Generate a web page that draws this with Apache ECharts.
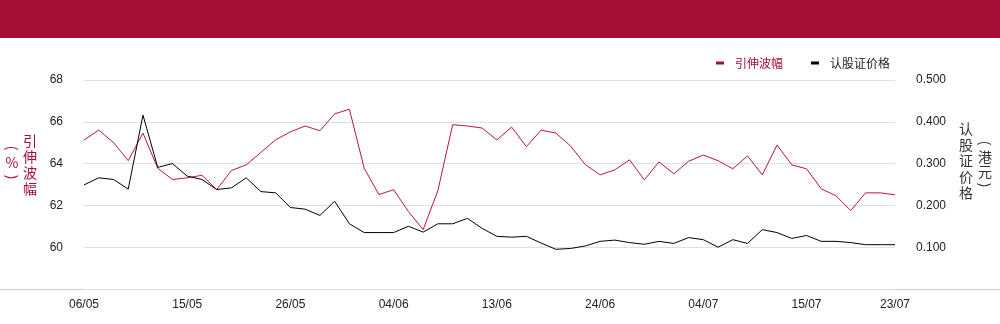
<!DOCTYPE html>
<html>
<head>
<meta charset="utf-8">
<script src="https://cdn.jsdelivr.net/npm/echarts@6/dist/echarts.min.js"></script>
<style>
  html, body { margin: 0; padding: 0; background: #fff; }
  .chart { width: 1000px; height: 324px; }
</style>
</head>
<body>
<div class="chart" id="chart"></div>
<script>
// 交易日
var dates = ['06/05', '07/05', '08/05', '09/05', '12/05', '13/05', '14/05', '15/05', '16/05', '19/05',
  '20/05', '21/05', '22/05', '23/05', '26/05', '27/05', '28/05', '29/05', '30/05', '02/06',
  '03/06', '04/06', '05/06', '06/06', '09/06', '10/06', '11/06', '12/06', '13/06', '16/06',
  '17/06', '18/06', '19/06', '20/06', '23/06', '24/06', '25/06', '26/06', '27/06', '30/06',
  '02/07', '03/07', '04/07', '07/07', '08/07', '09/07', '10/07', '11/07', '14/07', '15/07',
  '16/07', '17/07', '18/07', '21/07', '22/07', '23/07']

// 引伸波幅 (%)
var volData = [65.13, 65.60, 65.01, 64.14, 65.46, 63.78, 63.24, 63.32, 63.44, 62.76,
  63.67, 63.94, 64.54, 65.14, 65.52, 65.80, 65.57, 66.38, 66.60, 63.78,
  62.52, 62.75, 61.71, 60.84, 62.71, 65.86, 65.80, 65.70, 65.13, 65.75,
  64.81, 65.60, 65.46, 64.84, 63.95, 63.46, 63.70, 64.18, 63.22, 64.08,
  63.51, 64.11, 64.41, 64.14, 63.75, 64.37, 63.46, 64.89, 63.94, 63.75,
  62.79, 62.46, 61.75, 62.60, 62.60, 62.51]

// 认股证价格 (港元)
var priceData = [0.249, 0.266, 0.262, 0.239, 0.416, 0.291, 0.300, 0.270, 0.262, 0.238,
  0.242, 0.266, 0.233, 0.230, 0.195, 0.191, 0.176, 0.210, 0.156, 0.135,
  0.135, 0.135, 0.150, 0.136, 0.156, 0.156, 0.169, 0.145, 0.126, 0.124,
  0.126, 0.110, 0.095, 0.097, 0.103, 0.114, 0.117, 0.111, 0.107, 0.114,
  0.109, 0.123, 0.118, 0.100, 0.118, 0.109, 0.142, 0.135, 0.121, 0.128,
  0.114, 0.114, 0.111, 0.106, 0.106, 0.106]

var RED = '#A50F33'
var LINE_RED = '#B8163F'
var FONT = 'Arial, "Liberation Sans", "Noto Sans CJK SC", sans-serif'
var CJK = '"Noto Sans CJK SC", sans-serif'

// 竖排文字, 括号旋转
function vText (x, y, text, color) {
  return {
    type: 'text',
    x: x,
    y: y,
    rotation: text === '(' || text === ')' ? -Math.PI / 2 : 0,
    style: {
      text: text,
      fill: color,
      font: '14px ' + CJK,
      align: 'center',
      verticalAlign: 'middle'
    },
    silent: true
  }
}

var chart = echarts.init(document.getElementById('chart'))
chart.setOption({
  animation: false,
  backgroundColor: '#fff',
  textStyle: { fontFamily: FONT },
  grid: {
    left: 84,
    right: 105,
    top: 80,
    bottom: 35
  },
  legend: {
    right: 105,
    top: 52,
    itemWidth: 8,
    itemHeight: 3,
    itemGap: 28,
    icon: 'rect',
    textStyle: {
      fontFamily: CJK,
      fontSize: 12,
      padding: [0, 0, 0, 6]
    },
    data: [
      { name: '引伸波幅', textStyle: { color: RED } },
      { name: '认股证价格', textStyle: { color: '#222' } }
    ]
  },
  graphic: [
    {
      type: 'rect',
      left: 0,
      top: 0,
      shape: { width: 1000, height: 38 },
      style: { fill: RED },
      silent: true
    },
    {
      type: 'line',
      shape: { x1: 0, y1: 289.5, x2: 1000, y2: 289.5 },
      style: { stroke: '#cfcfcf', lineWidth: 1 },
      silent: true
    },
    {
      type: 'text',
      left: 23,
      top: 133,
      style: {
        text: '引\n伸\n波\n幅',
        fill: RED,
        font: '14px ' + CJK,
        lineHeight: 16
      }
    },
    vText(12, 148, '(', RED),
    vText(12, 163, '%', RED),
    vText(12, 177, ')', RED),
    {
      type: 'text',
      left: 959,
      top: 121,
      style: {
        text: '认\n股\n证\n价\n格',
        fill: '#333',
        font: '14px ' + CJK,
        lineHeight: 16
      }
    },
    vText(985, 143, '(', '#333'),
    vText(985, 157, '港', '#333'),
    vText(985, 172, '元', '#333'),
    vText(985, 185, ')', '#333')
  ],
  xAxis: {
    type: 'category',
    boundaryGap: false,
    data: dates,
    axisLine: { show: false },
    axisTick: { show: false },
    axisLabel: {
      color: '#222',
      fontSize: 12,
      margin: 10,
      interval: function (index) {
        return index % 7 === 0 || index === dates.length - 1
      }
    }
  },
  yAxis: [
    {
      type: 'value',
      min: 58,
      max: 68,
      interval: 2,
      axisLine: { show: false },
      axisTick: { show: false },
      splitLine: {
        lineStyle: { color: '#e0e0e0' }
      },
      axisLabel: {
        color: '#222',
        fontSize: 12,
        margin: 21,
        formatter: function (v) {
          return v === 58 ? '' : v
        }
      }
    },
    {
      type: 'value',
      min: 0,
      max: 0.5,
      interval: 0.1,
      axisLine: { show: false },
      axisTick: { show: false },
      splitLine: { show: false },
      axisLabel: {
        color: '#222',
        fontSize: 12,
        margin: 21,
        formatter: function (v) {
          return v === 0 ? '' : v.toFixed(3)
        }
      }
    }
  ],
  series: [
    {
      name: '引伸波幅',
      type: 'line',
      yAxisIndex: 0,
      data: volData,
      symbol: 'none',
      itemStyle: { color: RED },
      lineStyle: { color: LINE_RED, width: 1 }
    },
    {
      name: '认股证价格',
      type: 'line',
      yAxisIndex: 1,
      data: priceData,
      symbol: 'none',
      itemStyle: { color: '#000' },
      lineStyle: { color: '#000', width: 1 }
    }
  ]
})
</script>
</body>
</html>
